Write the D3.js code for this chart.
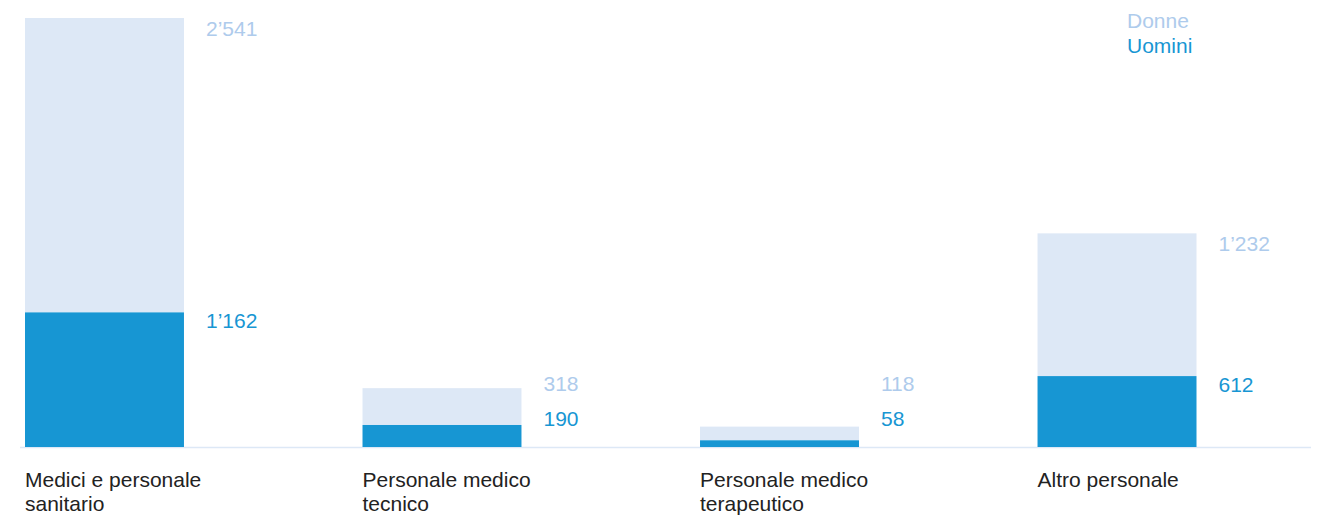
<!DOCTYPE html>
<html><head><meta charset="utf-8">
<script src="https://cdn.jsdelivr.net/npm/d3@7"></script>
<style>body{margin:0;background:#fff}svg{display:block;font-family:"Liberation Sans",Arial,Helvetica,sans-serif}</style>
</head><body><svg id="c" width="1326" height="518"></svg>
<script>
const categories = [["Medici e personale","sanitario"],["Personale medico","tecnico"],["Personale medico","terapeutico"],["Altro personale"]];
const uomini = [1162, 190, 58, 612];
const donne = [2541, 318, 118, 1232];
const seriesNames = ["Donne", "Uomini"];
const colDonne = "#dde8f6", colDonneText = "#aecbec", colUomini = "#1796d3";

const svg = d3.select("#c");
const baseY = 447, topY = 18, fs = 21;
const x = d3.scaleBand().domain(d3.range(categories.length)).range([25, 1196.5]).paddingInner(0.529).paddingOuter(0);
const y = d3.scaleLinear().domain([0, d3.max(uomini.map((u,i)=>u+donne[i]))]).range([baseY, topY]);
const fmt = v => d3.format(",")(v).replace(/,/g, "\u2019");

svg.append("line").attr("x1",20).attr("x2",1311).attr("y1",baseY+0.5).attr("y2",baseY+0.5)
  .attr("stroke","#dde8f6").attr("stroke-width",1.5);

const g = svg.append("g");
categories.forEach((c,i)=>{
  const x0 = x(i), w = x.bandwidth();
  const yu = y(uomini[i]), yd = y(uomini[i]+donne[i]);
  g.append("rect").attr("x",x0).attr("width",w).attr("y",yd).attr("height",yu-yd).attr("fill",colDonne);
  g.append("rect").attr("x",x0).attr("width",w).attr("y",yu).attr("height",baseY-yu).attr("fill",colUomini);
  const uy = Math.min(yu+16, baseY-21);
  const dy = Math.min(yd+18, uy-35);
  g.append("text").attr("x",x0+w+22).attr("y",uy).attr("font-size",fs).attr("fill",colUomini).text(fmt(uomini[i]));
  g.append("text").attr("x",x0+w+22).attr("y",dy).attr("font-size",fs).attr("fill",colDonneText).text(fmt(donne[i]));
  const t = g.append("text").attr("x",x0).attr("y",487).attr("font-size",fs).attr("fill","#222");
  c.forEach((line,k)=>t.append("tspan").attr("x",x0).attr("dy",k?24:0).text(line));
});

svg.append("text").attr("x",1127).attr("y",28).attr("font-size",fs).attr("fill",colDonneText).text(seriesNames[0]);
svg.append("text").attr("x",1127).attr("y",53).attr("font-size",fs).attr("fill",colUomini).text(seriesNames[1]);
</script></body></html>
